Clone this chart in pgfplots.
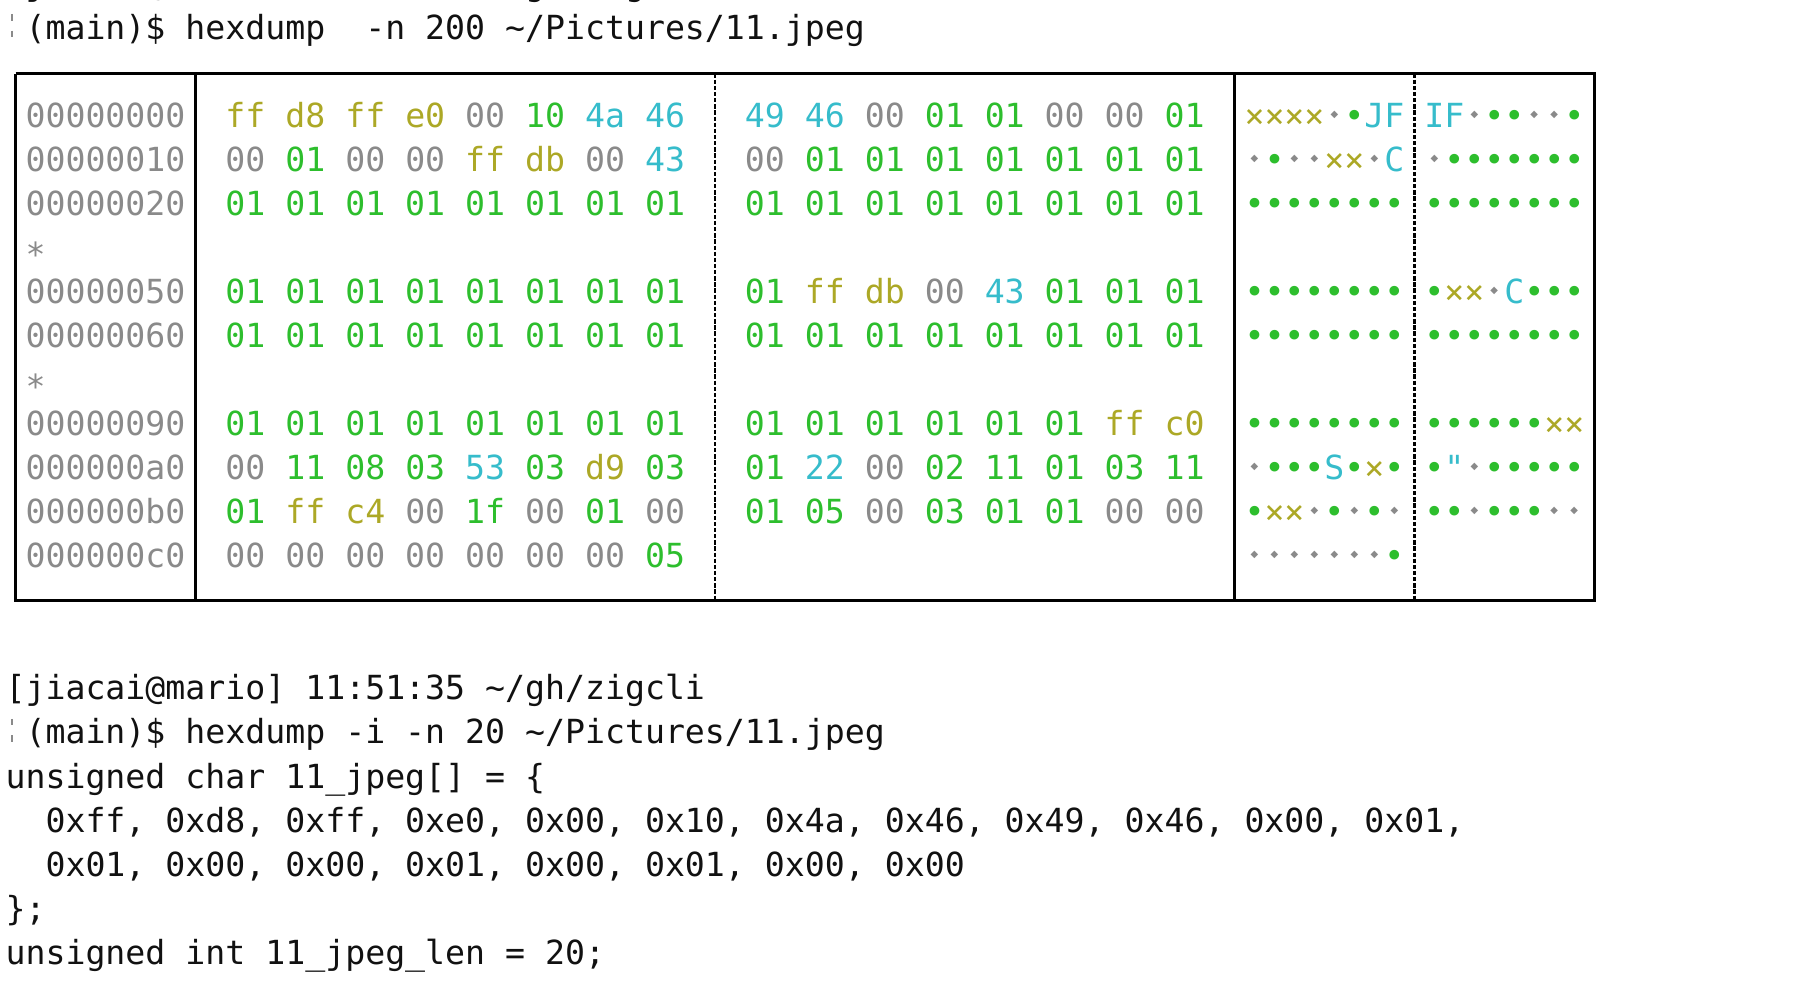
\documentclass[border=0pt]{standalone}
\usepackage{graphicx}
\usepackage{pgfplots}
\pgfplotsset{compat=1.18}
\usepackage{fontspec}
\setmainfont{DejaVu Sans}
\newfontfamily\mono{DejaVu Sans Mono}
\newfontfamily\dvs{DejaVu Sans}
\definecolor{hgray}{HTML}{8A8A8A}
\definecolor{holive}{HTML}{ACA826}
\definecolor{hgreen}{HTML}{2DBE2D}
\definecolor{hcyan}{HTML}{36BCCB}
\definecolor{htext}{HTML}{111111}
\newlength\cw
\newcommand\hZ[1]{\textcolor{hgray}{#1}}
\newcommand\hO[1]{\textcolor{holive}{#1}}
\newcommand\hG[1]{\textcolor{hgreen}{#1}}
\newcommand\hC[1]{\textcolor{hcyan}{#1}}
\newcommand\cc[2]{\makebox[\cw][c]{\textcolor{#1}{#2}}}
\newcommand\N{\cc{hgray}{\raisebox{0.3em}{\scalebox{0.3}{\dvs ◆}}}}
\newcommand\G{\cc{hgreen}{•}}
\newcommand\X{\cc{holive}{×}}
\newcommand\A[1]{\cc{hcyan}{#1}}
% \T{row}{column}{text}
\newcommand\T[3]{\node[anchor=base west, inner sep=0pt, outer sep=0pt, font=\mono, text=htext] at (axis cs:{-5+#2*20.1},{39.7+#1*44.29}) {#3};}
\begin{document}
\settowidth{\cw}{\mono 0}
\begin{tikzpicture}
\begin{axis}[name=ax, scale only axis, width=540.9pt, height=302.5pt,
  xmin=0, xmax=1806, ymin=0, ymax=1010, y dir=reverse, hide axis, clip=false]
% table frame
\addplot[black, line width=0.8pt, line join=miter] coordinates {(5,74) (1593,74) (1593,604) (5,604) (5,74)};
\addplot[black, line width=0.75pt] coordinates {(186,74) (186,604)};
\addplot[black, line width=0.75pt] coordinates {(1231,74) (1231,604)};
\addplot[black, line width=0.8pt, dash pattern=on 1.3pt off 0.55pt] coordinates {(708.5,74) (708.5,604)};
\addplot[black, line width=0.8pt, dash pattern=on 1.3pt off 0.55pt] coordinates {(1412,74) (1412,604)};
% cut-off prompt marks at the left edge
\addplot[hgray, line width=0.6pt, dash pattern=on 2pt off 3pt] coordinates {(1,14) (1,44)};
\addplot[hgray, line width=0.6pt, dash pattern=on 2pt off 3pt] coordinates {(1,723) (1,753)};
% previous prompt (cut off at the top)
\T{-1}{0}{[jiacai@mario] 11:51:30 \textasciitilde/gh/zigcli}
\T{0}{1}{(main)\$ hexdump~ -n 200 \textasciitilde/Pictures/11.jpeg}
% rows
\T{2}{1}{\hZ{00000000}}
\T{2}{11}{\hO{ff} \hO{d8} \hO{ff} \hO{e0} \hZ{00} \hG{10} \hC{4a} \hC{46}}
\T{2}{37}{\hC{49} \hC{46} \hZ{00} \hG{01} \hG{01} \hZ{00} \hZ{00} \hG{01}}
\T{2}{62}{\X\X\X\X\N\G\A{J}\A{F}}
\T{2}{71}{\A{I}\A{F}\N\G\G\N\N\G}
\T{3}{1}{\hZ{00000010}}
\T{3}{11}{\hZ{00} \hG{01} \hZ{00} \hZ{00} \hO{ff} \hO{db} \hZ{00} \hC{43}}
\T{3}{37}{\hZ{00} \hG{01} \hG{01} \hG{01} \hG{01} \hG{01} \hG{01} \hG{01}}
\T{3}{62}{\N\G\N\N\X\X\N\A{C}}
\T{3}{71}{\N\G\G\G\G\G\G\G}
\T{4}{1}{\hZ{00000020}}
\T{4}{11}{\hG{01 01 01 01 01 01 01 01}}
\T{4}{37}{\hG{01 01 01 01 01 01 01 01}}
\T{4}{62}{\G\G\G\G\G\G\G\G}
\T{4}{71}{\G\G\G\G\G\G\G\G}
\T{5}{1}{\hZ{\raisebox{-0.2em}{*}}}
\T{6}{1}{\hZ{00000050}}
\T{6}{11}{\hG{01 01 01 01 01 01 01 01}}
\T{6}{37}{\hG{01} \hO{ff} \hO{db} \hZ{00} \hC{43} \hG{01} \hG{01} \hG{01}}
\T{6}{62}{\G\G\G\G\G\G\G\G}
\T{6}{71}{\G\X\X\N\A{C}\G\G\G}
\T{7}{1}{\hZ{00000060}}
\T{7}{11}{\hG{01 01 01 01 01 01 01 01}}
\T{7}{37}{\hG{01 01 01 01 01 01 01 01}}
\T{7}{62}{\G\G\G\G\G\G\G\G}
\T{7}{71}{\G\G\G\G\G\G\G\G}
\T{8}{1}{\hZ{\raisebox{-0.2em}{*}}}
\T{9}{1}{\hZ{00000090}}
\T{9}{11}{\hG{01 01 01 01 01 01 01 01}}
\T{9}{37}{\hG{01 01 01 01 01 01} \hO{ff} \hO{c0}}
\T{9}{62}{\G\G\G\G\G\G\G\G}
\T{9}{71}{\G\G\G\G\G\G\X\X}
\T{10}{1}{\hZ{000000a0}}
\T{10}{11}{\hZ{00} \hG{11} \hG{08} \hG{03} \hC{53} \hG{03} \hO{d9} \hG{03}}
\T{10}{37}{\hG{01} \hC{22} \hZ{00} \hG{02} \hG{11} \hG{01} \hG{03} \hG{11}}
\T{10}{62}{\N\G\G\G\A{S}\G\X\G}
\T{10}{71}{\G\A{"}\N\G\G\G\G\G}
\T{11}{1}{\hZ{000000b0}}
\T{11}{11}{\hG{01} \hO{ff} \hO{c4} \hZ{00} \hG{1f} \hZ{00} \hG{01} \hZ{00}}
\T{11}{37}{\hG{01} \hG{05} \hZ{00} \hG{03} \hG{01} \hG{01} \hZ{00} \hZ{00}}
\T{11}{62}{\G\X\X\N\G\N\G\N}
\T{11}{71}{\G\G\N\G\G\G\N\N}
\T{12}{1}{\hZ{000000c0}}
\T{12}{11}{\hZ{00 00 00 00 00 00 00} \hG{05}}
\T{12}{62}{\N\N\N\N\N\N\N\G}
% second command
\T{15}{0}{[jiacai@mario] 11:51:35 \textasciitilde/gh/zigcli}
\T{16}{1}{(main)\$ hexdump -i -n 20 \textasciitilde/Pictures/11.jpeg}
\T{17}{0}{unsigned char 11\_jpeg[] = \{}
\T{18}{2}{0xff, 0xd8, 0xff, 0xe0, 0x00, 0x10, 0x4a, 0x46, 0x49, 0x46, 0x00, 0x01,}
\T{19}{2}{0x01, 0x00, 0x00, 0x01, 0x00, 0x01, 0x00, 0x00}
\T{20}{0}{\};}
\T{21}{0}{unsigned int 11\_jpeg\_len = 20;}
\end{axis}
\pgfresetboundingbox
\path[use as bounding box] (ax.south west) rectangle (ax.north east);
\end{tikzpicture}
\end{document}
